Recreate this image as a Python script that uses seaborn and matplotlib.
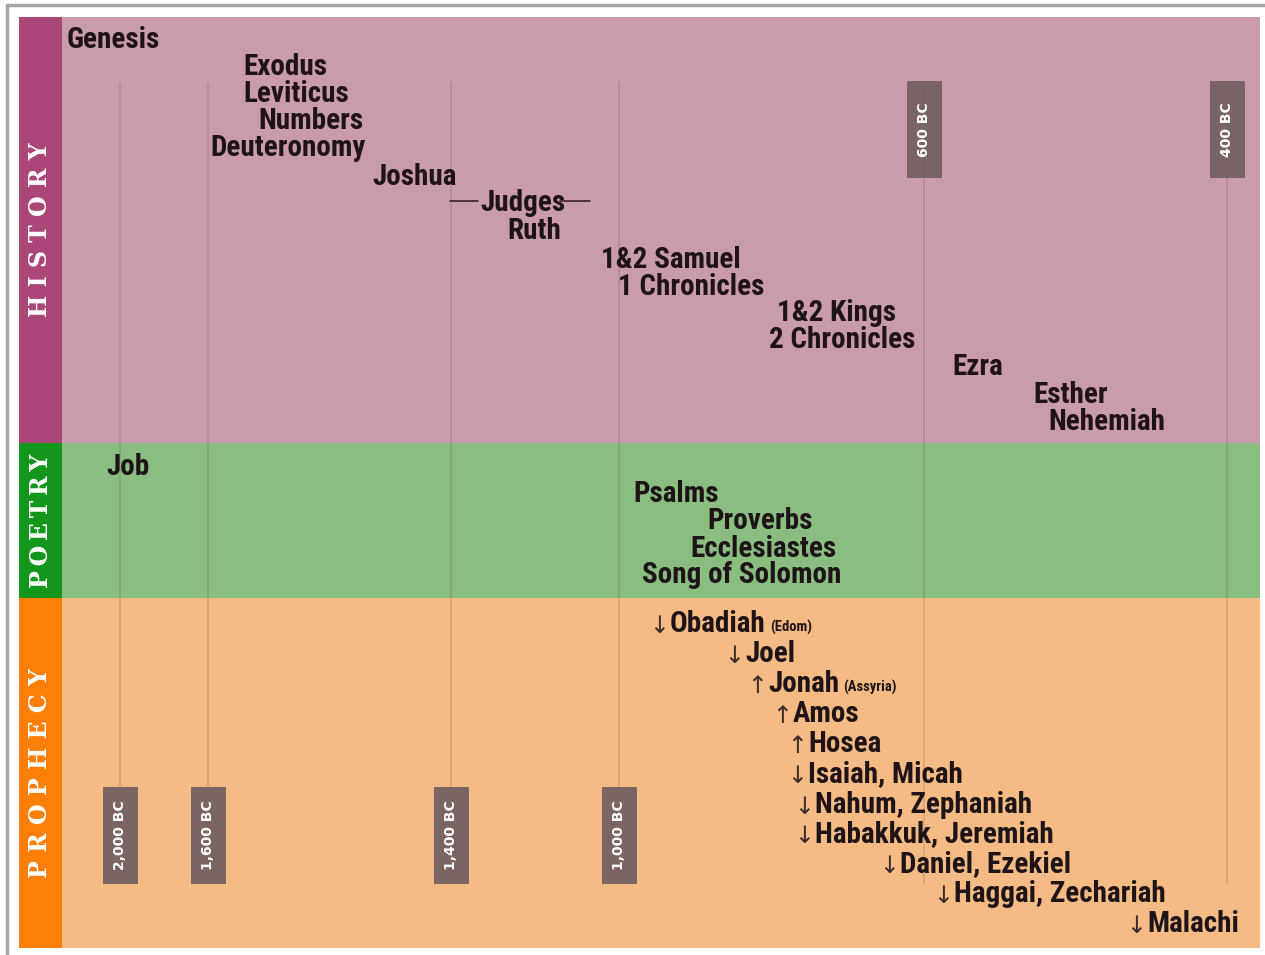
import matplotlib
matplotlib.use("Agg")
import matplotlib.pyplot as plt
from matplotlib import font_manager
from matplotlib.lines import Line2D
import pandas as pd
import seaborn as sns

# Old Testament timeline: horizontal position = rough chronology, vertical = reading order
history_books = ["Genesis", "Exodus", "Leviticus", "Numbers", "Deuteronomy", "Joshua",
                 "Judges", "Ruth", "1&2 Samuel", "1 Chronicles", "1&2 Kings",
                 "2 Chronicles", "Ezra", "Esther", "Nehemiah"]
history_x = [5, 181, 181, 196, 148, 310, 418, 445, 539, 556, 715, 707, 890, 971, 986]
history_y = [21, 48, 75, 102, 129, 158, 184, 212, 241, 268, 294, 321, 348, 376, 403]

poetry_books = ["Job", "Psalms", "Proverbs", "Ecclesiastes", "Song of Solomon"]
poetry_x = [44, 571, 645, 628, 580]
poetry_y = [448, 475, 502, 530, 556]

prophecy_books = ["Obadiah", "Joel", "Jonah", "Amos", "Hosea", "Isaiah, Micah",
                  "Nahum, Zephaniah", "Habakkuk, Jeremiah", "Daniel, Ezekiel",
                  "Haggai, Zechariah", "Malachi"]
prophecy_x = [608, 683, 706, 731, 746, 746, 753, 753, 838, 892, 1085]
prophecy_y = [605, 635, 665, 695, 725, 755, 786, 815, 845, 875, 905]
prophecy_dir = ["↓", "↓", "↑", "↑", "↑", "↓", "↓", "↓", "↓", "↓", "↓"]
prophecy_note = ["(Edom)", "", "(Assyria)", "", "", "", "", "", "", "", ""]

# dashes either side of Judges
judges_rules = [(388, 416), (498, 528)]

# era markers
era_labels = ["2,000 BC", "1,600 BC", "1,400 BC", "1,000 BC", "600 BC", "400 BC"]
era_x = [58, 146, 389, 557, 862, 1165]
era_box_top = [770, 770, 770, 770, 64, 64]
era_box_h = 97
era_line_span = (65, 866)

# sections
sections = ["H I S T O R Y", "P\u2009O\u2009E\u2009T\u2009R\u2009Y", "P R O P H E C Y"]
section_top = [0, 426, 581]
section_bottom = [426, 581, 931]
section_strip = ["#aa4678", "#13961c", "#fd7f07"]
section_band = ["#ca9bad", "#8abe81", "#f4bb84"]

sns.set_theme(style="white")
text_color = "#1e1418"

# pick the narrowest bold face that is installed
candidates = ["Liberation Sans Narrow", "Roboto Condensed", "Open Sans Condensed",
              "DejaVu Sans Condensed", "DejaVu Sans"]
book_font = "DejaVu Sans"
for fam in candidates:
    try:
        font_manager.findfont(font_manager.FontProperties(family=fam, weight="bold",
                                                          stretch="condensed"),
                              fallback_to_default=False)
        book_font = fam
        break
    except ValueError:
        continue

fig = plt.figure(figsize=(12.65, 9.55), dpi=100)
fig.patch.set_facecolor("white")
ax = fig.add_axes([19 / 1265, 1 - 948 / 955, 1241 / 1265, 931 / 955])

# size the book font so "Deuteronomy" is as wide as in the original (~158 px)
renderer = fig.canvas.get_renderer()
probe = fig.text(0, 0, "Deuteronomy", fontsize=21, weight="bold", family=book_font,
                 stretch="condensed")
probe_w = probe.get_window_extent(renderer).width
probe.remove()
book_size = min(21, 21 * 158 / probe_w)

# vertical era lines through seaborn
era_df = pd.DataFrame({
    "era": [e for e in era_labels for _ in range(2)],
    "x": [x for x in era_x for _ in range(2)],
    "y": list(era_line_span) * len(era_labels),
})
sns.lineplot(data=era_df, x="x", y="y", units="era", estimator=None, sort=False,
             color="#6e4a4a", alpha=0.22, lw=1.2, ax=ax, zorder=2)

xlim = (-43, 1198)
ax.set_xlim(*xlim)
ax.set_ylim(931, 0)
strip_frac = (0 - xlim[0]) / (xlim[1] - xlim[0])

# background bands and section strips
for name, top, bot, sc, bc in zip(sections, section_top, section_bottom,
                                  section_strip, section_band):
    ax.axhspan(top, bot, xmin=strip_frac, xmax=1, color=bc, lw=0, zorder=0)
    ax.axhspan(top, bot, xmin=0, xmax=strip_frac, color=sc, lw=0, zorder=1)
    ax.text(xlim[0] / 2, (top + bot) / 2, name, rotation=90, ha="center", va="center",
            color="white", fontsize=17, weight="bold", family="DejaVu Serif", zorder=5)

# era boxes
ax.bar(era_x, era_box_h, bottom=era_box_top, width=35, color="#756161", alpha=0.95,
       lw=0, zorder=3)
for lab, x, top in zip(era_labels, era_x, era_box_top):
    ax.text(x, top + era_box_h / 2, lab, rotation=90, ha="center", va="center",
            color="white", fontsize=10, weight="bold", family="DejaVu Sans", zorder=4)

base_off = 7 * book_size / 15  # shift from visual centre to baseline


def book(x, y, name):
    return ax.text(x, y + base_off, name, ha="left", va="baseline", fontsize=book_size,
                   weight="bold", family=book_font, stretch="condensed",
                   color=text_color, zorder=5)


for name, x, y in zip(history_books + poetry_books,
                      history_x + poetry_x, history_y + poetry_y):
    book(x, y, name)

jy = history_y[history_books.index("Judges")]
for x0, x1 in judges_rules:
    ax.plot([x0, x1], [jy, jy], color="#3a2428", lw=1.2, zorder=5)

for name, x, y, d, note in zip(prophecy_books, prophecy_x, prophecy_y,
                               prophecy_dir, prophecy_note):
    t = book(x, y, name)
    ax.text(x - 1, y + base_off + 1, d, ha="right", va="baseline", fontsize=17,
            family="DejaVu Sans", color="#3a2a2a", zorder=5)
    if note:
        ax.annotate(note, xy=(1, 0), xycoords=t, xytext=(3, 2), textcoords="offset points",
                    ha="left", va="bottom", fontsize=10.5, weight="bold",
                    family=book_font, stretch="condensed", color=text_color, zorder=5)

ax.set_xlabel("")
ax.set_ylabel("")
ax.set_xticks([])
ax.set_yticks([])
for s in ax.spines.values():
    s.set_visible(False)

# grey frame on top and left
fig.add_artist(Line2D([7 / 1265, 7 / 1265], [0, 1 - 5 / 955], color="#a6a6a6", lw=2.5))
fig.add_artist(Line2D([7 / 1265, 1], [1 - 5 / 955, 1 - 5 / 955], color="#a6a6a6", lw=2.5))

fig.savefig("out.png", dpi=100)
